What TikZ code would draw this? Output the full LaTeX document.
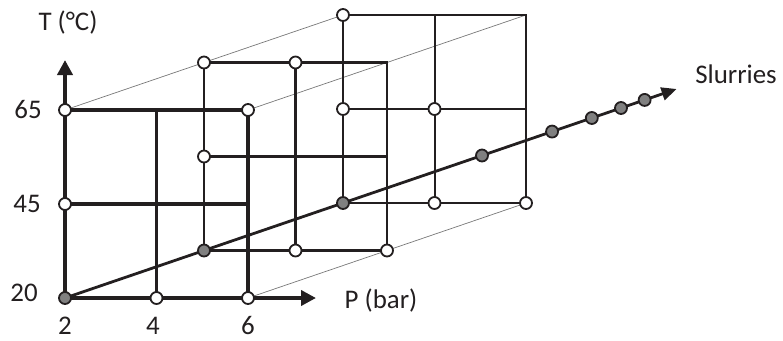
\documentclass[tikz,border=0pt]{standalone}
\usepackage{fontspec}
\setmainfont{Carlito}
\usetikzlibrary{arrows.meta}
\definecolor{ink}{RGB}{35,31,32}
\definecolor{dotgray}{RGB}{128,128,128}
\definecolor{edgegray}{RGB}{120,120,120}

\begin{document}
\begin{tikzpicture}[x=1bp, y=-1bp, font=\fontsize{27}{30}\selectfont,
    open/.style={circle, draw=ink, fill=white, line width=1.8bp, inner sep=0pt, minimum size=12bp},
    full/.style={open, fill=dotgray},
    plane0/.style={draw=ink, line width=3.8bp},
    plane1/.style={draw=ink, line width=2.6bp},
    plane2/.style={draw=ink, line width=2bp},
    edge/.style={draw=edgegray, line width=0.7bp},
    axis/.style={draw=ink, line width=3.8bp, -{Triangle[length=15bp, width=15bp]}},
    slurry/.style={draw=ink, line width=2.8bp, -{Triangle[length=15bp, width=13bp]}},
    lbl/.style={inner sep=1bp, text=ink}]
    % --- 1. origin, grid step and offset between the planes ---
    \def\ox{65}
    \def\oy{298}
    \def\sx{91.5}
    \def\sy{94}
    \def\dx{139}
    \def\dy{47.5}
    \useasboundingbox (0,0) rectangle (783,340);

    % --- 2. grid points g<plane><P><T> ---
    \foreach \k in {0,1,2}
      \foreach \i in {0,1,2}
        \foreach \j in {0,1,2}
          \coordinate (g\k\i\j) at (\ox+\dx*\k+\sx*\i, \oy-\dy*\k-\sy*\j);

    % --- 3. slurry axis points ---
    \foreach \t/\n in {3/a, 3.504/b, 3.79/c, 4.0/d, 4.17/e, 4.4/tip}
      \coordinate (s\n) at (\ox+\dx*\t, \oy-\dy*\t);
    \coordinate (Ttip) at (\ox,60);
    \coordinate (Ptip) at (316,\oy);

    % --- 4. thin edges of the block ---
    \draw[edge] (g002) -- (g202);
    \draw[edge] (g022) -- (g222);
    \draw[edge] (g020) -- (g220);

    % --- 5. the three planes (back to front) ---
    \draw[plane2] (g200) rectangle (g222);
    \draw[plane2] (g210) -- (g212);
    \draw[plane2] (g201) -- (g221);
    \draw[plane1] (g100) rectangle (g122);
    \draw[plane1] (g110) -- (g112);
    \draw[plane1] (g101) -- (g121);
    \draw[plane0] (g010) -- (g012);
    \draw[plane0] (g001) -- (g021);
    \draw[plane0] (g002) -- (g022) -- (g020);

    % --- 6. axes ---
    \draw[slurry] (g000) -- (stip);
    \draw[axis] (g000) -- (Ttip);
    \draw[axis] (g000) -- (Ptip);

    % --- 7. sample points ---
    \foreach \p in {002,022,001,010,020,102,112,101,110,120,202,201,211,210,220}
      \node[open] (m\p) at (g\p) {};
    \foreach \p in {000,100,200}
      \node[full] (m\p) at (g\p) {};
    \foreach \n in {a,b,c,d,e}
      \node[full] (d\n) at (s\n) {};

    % --- 8. labels ---
    \node[lbl] (tlab) at (68,23) {T (°C)};
    \node[lbl] (plab) at (381,301) {P (bar)};
    \node[lbl] (slab) at (736,74) {Slurries};
    \node[lbl] (t65) at (28,110) {65};
    \node[lbl] (t45) at (27,204) {45};
    \node[lbl] (t20) at (24,293) {20};
    \node[lbl] (p2) at (65,326) {2};
    \node[lbl] (p4) at (153,326) {4};
    \node[lbl] (p6) at (248,326) {6};
\end{tikzpicture}
\end{document}
